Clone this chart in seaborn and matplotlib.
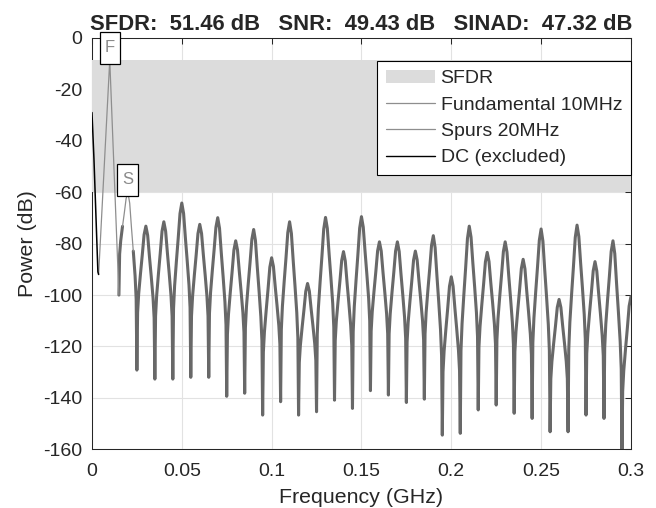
import numpy as np
import pandas as pd
import seaborn as sns
import matplotlib.pyplot as plt
from matplotlib.patches import Patch
from matplotlib.lines import Line2D
from matplotlib.path import Path

# spectrum: one lobe every 10 MHz (GHz / dB)
lobe_ghz = [0.02, 0.03, 0.04, 0.05, 0.06, 0.07, 0.08, 0.09, 0.10, 0.11,
            0.12, 0.13, 0.14, 0.15, 0.16, 0.17, 0.18, 0.19, 0.20, 0.21,
            0.22, 0.23, 0.24, 0.25, 0.26, 0.27, 0.28, 0.29, 0.30]
peak_db = [-60.1, -73.2, -71.5, -64.2, -72.5, -69.9, -78.9, -74.5, -85.5, -71.5,
           -95.5, -69.8, -83.1, -69.5, -79.3, -79.3, -82.9, -76.9, -92.9, -73.2,
           -83.4, -79.3, -86.1, -74.3, -101.7, -72.8, -87.0, -78.9, -100.6]
null_ghz = [0.015, 0.025, 0.035, 0.045, 0.055, 0.065, 0.075, 0.085, 0.095, 0.105,
            0.115, 0.125, 0.135, 0.145, 0.155, 0.165, 0.175, 0.185, 0.195, 0.205,
            0.215, 0.225, 0.235, 0.245, 0.255, 0.265, 0.275, 0.285, 0.295]
null_db = [-100.0, -129.2, -132.7, -132.7, -132.0, -132.0, -139.4, -138.2, -146.7, -141.5,
           -146.7, -145.4, -140.9, -144.1, -137.2, -138.9, -141.8, -140.5, -154.5, -153.8,
           -144.7, -142.8, -146.0, -148.0, -153.2, -153.2, -146.7, -148.0, -162.0]

# lobe outline: share of the peak-to-null drop
# at a given fraction of the way from the peak to the null
shape_u = [0.2, 0.4, 0.6, 0.8, 0.92]
shape_drop = [0.06, 0.2, 0.33, 0.47, 0.6]

dc_ghz = [0.0, 0.0011, 0.0024, 0.0033, 0.0037]
dc_db = [-29, -47, -73, -91, -92]

fund_ghz = [0.0037, 0.0099, 0.015]
fund_db = [-92, -8.6, -100]

sfdr_top = -8.6
sfdr_bottom = -60.06
title = "SFDR:  51.46 dB   SNR:  49.43 dB   SINAD:  47.32 dB"

main_col = "#686868"
thin_col = "#8e8e8e"
shade_col = "#dcdcdc"

# build the trace lobe by lobe
pts = []
for i, (c, p) in enumerate(zip(lobe_ghz, peak_db)):
    lf, ldb = null_ghz[i], null_db[i]
    half = c - lf
    pts.append((lf, ldb, -1.0, i))
    for u, d in zip(shape_u[::-1], shape_drop[::-1]):
        pts.append((c - u * half, p - d * (p - ldb), -u, i))
    pts.append((c, p, 0.0, i))
    if i + 1 < len(null_ghz):
        rdb = null_db[i + 1]
        for u, d in zip(shape_u, shape_drop):
            pts.append((c + u * half, p - d * (p - rdb), u, i))
    # last lobe is cut by the axis edge
trace = pd.DataFrame(pts, columns=["ghz", "db", "u", "lobe"])

spur = trace[(trace.lobe == 0) & (trace.u.abs() <= 0.6)]
main = trace[~((trace.lobe == 0) & (trace.u.abs() < 0.6))].copy()
main["piece"] = np.where((main.lobe == 0) & (main.u < 0), 0, 1)


def tall_box(x0, y0, width, height, mutation_size):
    # square box, taller padding than wide (like the MATLAB labels)
    px, py = 0.3 * mutation_size, 0.5 * mutation_size
    x0, y0 = x0 - px, y0 - py
    x1, y1 = x0 + width + 2 * px, y0 + height + 2 * py
    return Path([(x0, y0), (x1, y0), (x1, y1), (x0, y1), (x0, y0)], closed=True)


sns.set_style("white")
plt.rcParams["font.family"] = ["Liberation Sans", "DejaVu Sans"]
plt.rcParams["axes.unicode_minus"] = False

fig = plt.figure(figsize=(6.56, 5.08), dpi=100)
ax = fig.add_axes([0.1402, 0.1156, 0.8216, 0.8096])

ax.fill_between([0, 0.3], sfdr_bottom, sfdr_top, color=shade_col, lw=0, zorder=2.6)

sns.lineplot(data=main, x="ghz", y="db", units="piece", estimator=None, sort=False,
             color=main_col, lw=2.2, ax=ax, zorder=3, solid_joinstyle="round")
sns.lineplot(data=spur, x="ghz", y="db", estimator=None, sort=False,
             color=thin_col, lw=0.9, ax=ax, zorder=4)
sns.lineplot(x=fund_ghz, y=fund_db, estimator=None, sort=False,
             color=thin_col, lw=0.9, ax=ax, zorder=4)
sns.lineplot(x=dc_ghz, y=dc_db, estimator=None, sort=False,
             color="black", lw=1.1, ax=ax, zorder=4)

# F / S markers
for txt, x, y in [("F", fund_ghz[1], sfdr_top), ("S", lobe_ghz[0], sfdr_bottom)]:
    ax.text(x, y + 1.9, txt, ha="center", va="bottom", fontsize=12, color="#8a8a8a",
            zorder=6, clip_on=False,
            bbox=dict(boxstyle=tall_box, fc="white", ec="black", lw=0.9))

ax.set_xlim(0, 0.3)
ax.set_ylim(-160, 0)
ax.set_xticks([0, 0.05, 0.1, 0.15, 0.2, 0.25, 0.3])
ax.set_xticklabels(["0", "0.05", "0.1", "0.15", "0.2", "0.25", "0.3"])
ax.set_yticks(range(-160, 1, 20))
ax.grid(True, color="#e2e2e2", lw=0.8)
ax.tick_params(direction="in", length=4, width=0.75, top=True, right=True,
               labelsize=14, colors="#262626", pad=7)
ax.tick_params(axis="x", pad=10)
for s in ax.spines.values():
    s.set_color("#262626")
    s.set_linewidth(0.75)

ax.set_xlabel("Frequency (GHz)", fontsize=15.4, color="#262626", labelpad=6)
ax.set_ylabel("Power (dB)", fontsize=15.4, color="#262626", labelpad=4)
ax.set_title(title, fontsize=15.8, fontweight="bold", pad=6)

handles = [Patch(facecolor=shade_col, edgecolor="none"),
           Line2D([], [], color=thin_col, lw=0.9),
           Line2D([], [], color=thin_col, lw=0.9),
           Line2D([], [], color="black", lw=1.0)]
labels = ["SFDR", "Fundamental 10MHz", "Spurs 20MHz", "DC (excluded)"]
leg = ax.legend(handles, labels, loc="upper right", bbox_to_anchor=(1.0, 0.944),
                borderaxespad=0, fontsize=14, handlelength=2.5, handletextpad=0.3,
                labelspacing=0.45, borderpad=0.45, fancybox=False, framealpha=1)
leg.get_frame().set_edgecolor("black")
leg.get_frame().set_linewidth(0.8)
leg.set_zorder(7)

fig.savefig("out.png", dpi=100)
